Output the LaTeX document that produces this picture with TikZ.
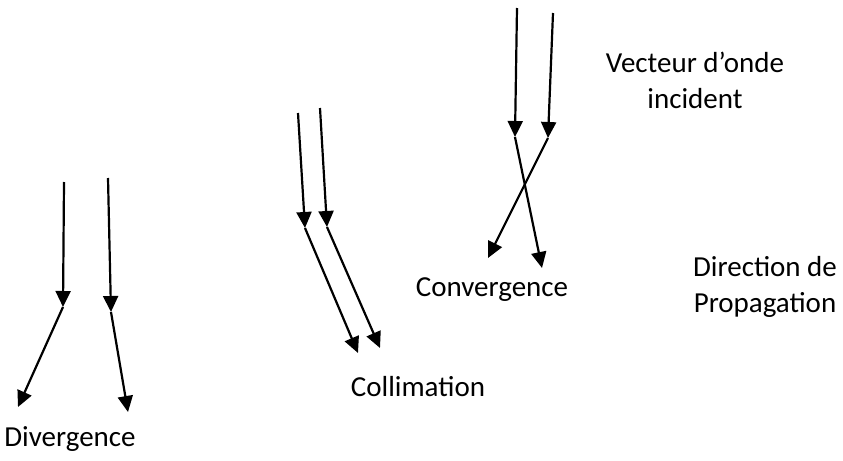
\documentclass[tikz,border=0pt]{standalone}
\usepackage{fontspec}
\setmainfont{Carlito}
\usetikzlibrary{arrows.meta}
\tikzset{
  ray/.style={line width=1.1pt, -{Triangle[length=8pt, width=7.5pt]}},
  lbl/.style={font=\fontsize{14.5}{18}\selectfont, align=center}
}
\begin{document}
\begin{tikzpicture}[x=0.5pt, y=-0.5pt]
    \useasboundingbox (0,0) rectangle (843,461);

    % Divergence
    \coordinate (d1s) at (64,182);
    \coordinate (d1m) at (63,307);
    \coordinate (d1e) at (18,407);
    \coordinate (d2s) at (108,178);
    \coordinate (d2m) at (111,312);
    \coordinate (d2e) at (128,412);
    \draw[ray] (d1s) -- (d1m);
    \draw[ray] (d1m) -- (d1e);
    \draw[ray] (d2s) -- (d2m);
    \draw[ray] (d2m) -- (d2e);
    \node[lbl] (div) at (70,439) {Divergence};

    % Collimation
    \coordinate (c1s) at (298,113);
    \coordinate (c1m) at (305,228);
    \coordinate (c1e) at (358,353);
    \coordinate (c2s) at (320,108);
    \coordinate (c2m) at (327,227);
    \coordinate (c2e) at (380,348);
    \draw[ray] (c1s) -- (c1m);
    \draw[ray] (c1m) -- (c1e);
    \draw[ray] (c2s) -- (c2m);
    \draw[ray] (c2m) -- (c2e);
    \node[lbl] (col) at (418,387) {Collimation};

    % Convergence
    \coordinate (v1s) at (517,8);
    \coordinate (v1m) at (515,137);
    \coordinate (v1e) at (542,268);
    \coordinate (v2s) at (553,13);
    \coordinate (v2m) at (548,138);
    \coordinate (v2e) at (488,258);
    \draw[ray] (v1s) -- (v1m);
    \draw[ray] (v1m) -- (v1e);
    \draw[ray] (v2s) -- (v2m);
    \draw[ray] (v2m) -- (v2e);
    \node[lbl] (conv) at (492,290) {Convergence};

    % legend
    \node[lbl] (vec) at (695,80) {Vecteur d’onde\\incident};
    \node[lbl] (dir) at (765,287) {Direction de\\Propagation};
\end{tikzpicture}
\end{document}
